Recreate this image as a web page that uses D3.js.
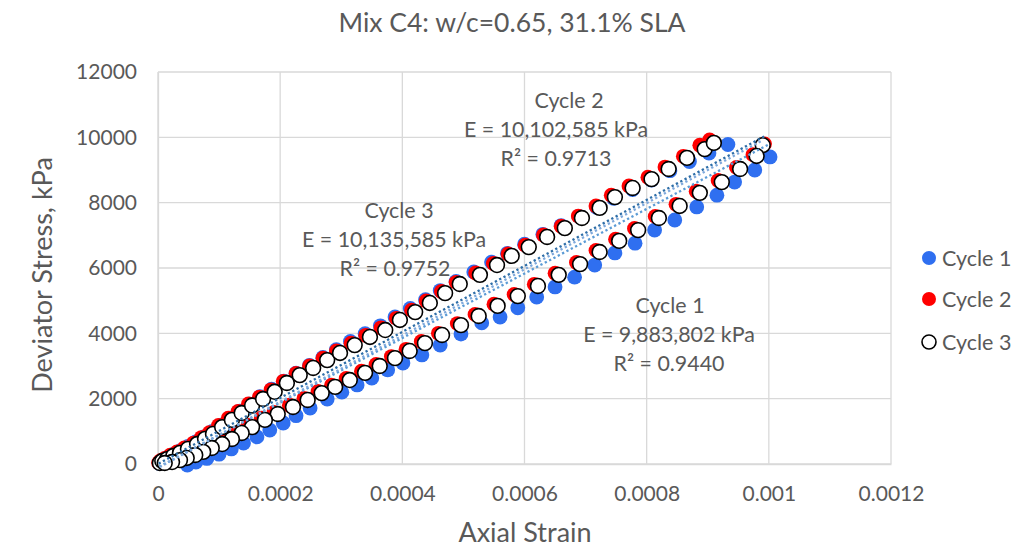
<!DOCTYPE html>
<html>
<head>
<meta charset="utf-8">
<script src="https://cdn.jsdelivr.net/npm/d3@7"></script>
<style>
  body { margin: 0; background: #fff; }
  svg { display: block; }
  text { font-family: Lato, "Open Sans", sans-serif; fill: #595959; }
</style>
</head>
<body>
<svg id="chart" width="1030" height="549"></svg>
<script>
// ---- data: [axial strain, deviator stress (kPa)] ----
const cycleNames = ["Cycle 1", "Cycle 2", "Cycle 3"];

const cycle1Loading = [
  [0.000002,20],[0.000008,110],[0.000016,200],[0.000026,300],[0.000037,410],[0.000049,540],
  [0.000062,680],[0.000075,830],[0.000089,1000],[0.000103,1190],[0.000118,1400],[0.000134,1620],
  [0.00015,1830],[0.000167,2060],[0.000186,2290],[0.000206,2540],[0.000226,2780],[0.000248,3020],
  [0.00027,3260],[0.000292,3500],[0.000315,3750],[0.000339,3990],[0.000364,4230],[0.000388,4500],
  [0.000413,4760],[0.000438,5030],[0.000462,5310],[0.000488,5590],[0.000517,5880],[0.000546,6180],
  [0.000572,6450],[0.0006,6730],[0.00063,7030],[0.00066,7300],[0.000689,7580],[0.000718,7860],
  [0.000746,8130],[0.000777,8400],[0.000808,8690],[0.000838,8980],[0.00087,9260],[0.000902,9520],
  [0.000933,9780]
];
const cycle1Unloading = [
  [0.001002,9400],[0.000977,9000],[0.000944,8630],[0.000915,8230],[0.000882,7870],[0.000846,7470],
  [0.000813,7160],[0.000781,6760],[0.000748,6460],[0.000715,6090],[0.000682,5720],[0.00065,5420],
  [0.00062,5110],[0.000589,4780],[0.00056,4500],[0.00053,4320],[0.000496,3980],[0.000462,3640],
  [0.000432,3340],[0.000401,3090],[0.000376,2880],[0.00035,2630],[0.000326,2420],[0.000301,2200],
  [0.000277,1990],[0.000249,1715],[0.000226,1480],[0.000205,1255],[0.000183,1040],[0.000162,830],
  [0.00014,640],[0.00012,460],[0.0001,300],[0.00008,170],[0.000062,60],[0.000048,-30]
];

const cycle2Loading = [
  [0.000001,40],[0.000004,100],[0.000011,170],[0.00002,270],[0.000031,370],[0.000043,490],
  [0.000058,640],[0.000071,810],[0.000084,960],[0.000099,1180],[0.000115,1400],[0.000131,1610],
  [0.000148,1840],[0.000166,2050],[0.000185,2270],[0.000205,2530],[0.000226,2770],[0.000248,3000],
  [0.00027,3240],[0.000292,3460],[0.000316,3700],[0.00034,3940],[0.000365,4170],[0.00039,4460],
  [0.000415,4710],[0.000439,4990],[0.000464,5280],[0.000488,5560],[0.00052,5850],[0.000549,6140],
  [0.000573,6430],[0.000601,6700],[0.000631,7010],[0.00066,7280],[0.000688,7590],[0.000717,7900],
  [0.000742,8230],[0.000771,8510],[0.000802,8780],[0.00083,9090],[0.00086,9420],[0.000887,9760],
  [0.000903,9920]
];
const cycle2Unloading = [
  [0.000993,9800],[0.000974,9470],[0.000947,9080],[0.000917,8680],[0.000881,8350],[0.000848,7950],
  [0.000814,7580],[0.00078,7210],[0.000749,6880],[0.000717,6540],[0.000685,6170],[0.00065,5840],
  [0.000616,5500],[0.000583,5190],[0.00055,4890],[0.000519,4580],[0.00049,4300],[0.000459,4000],
  [0.000431,3750],[0.000406,3510],[0.000382,3290],[0.000357,3050],[0.000333,2840],[0.000308,2620],
  [0.000284,2410],[0.000262,2220],[0.000239,2010],[0.000215,1800],[0.00019,1580],[0.000169,1400],
  [0.000148,1180],[0.000131,1000],[0.000115,810],[0.000099,660],[0.000082,540],[0.000068,420],
  [0.000055,320],[0.000041,230],[0.00003,160],[0.000017,100],[0.000005,70]
];

const cycle3Loading = [
  [0.000003,30],[0.000007,90],[0.000015,150],[0.000025,245],[0.000036,340],[0.000049,460],
  [0.000064,610],[0.000077,770],[0.00009,920],[0.000105,1130],[0.000121,1350],[0.000137,1560],
  [0.000154,1790],[0.000172,1990],[0.000191,2210],[0.000211,2480],[0.000232,2720],[0.000254,2940],
  [0.000277,3180],[0.000298,3400],[0.000322,3640],[0.000347,3890],[0.000372,4100],[0.000396,4410],
  [0.000421,4650],[0.000445,4930],[0.00047,5230],[0.000494,5510],[0.000527,5790],[0.000555,6090],
  [0.000579,6370],[0.000607,6640],[0.000637,6950],[0.000666,7220],[0.000694,7530],[0.000723,7840],
  [0.000748,8170],[0.000777,8450],[0.000808,8720],[0.000836,9030],[0.000866,9370],[0.000895,9640],
  [0.00091,9830]
];
const cycle3Unloading = [
  [0.00099,9760],[0.00098,9430],[0.000953,9030],[0.000923,8630],[0.000887,8300],[0.000854,7900],
  [0.00082,7530],[0.000786,7160],[0.000755,6830],[0.000723,6490],[0.000691,6120],[0.000656,5790],
  [0.000622,5450],[0.000589,5140],[0.000556,4840],[0.000525,4530],[0.000496,4250],[0.000465,3950],
  [0.000437,3700],[0.000412,3460],[0.000388,3240],[0.000363,3000],[0.000339,2790],[0.000314,2570],
  [0.00029,2360],[0.000268,2170],[0.000245,1960],[0.000221,1745],[0.000196,1530],[0.000175,1350],
  [0.000154,1130],[0.000137,950],[0.000121,765],[0.000105,610],[0.000088,490],[0.000074,370],
  [0.000061,275],[0.000047,185],[0.000036,120],[0.000023,60],[0.000011,30]
];

// fitted modulus (trendline slope) and coefficient of determination per cycle
const modulusValues = [9883802, 10102585, 10135585];
const rSquaredLabels = ["0.9440", "0.9713", "0.9752"];

const strainTicks = [0, 0.0002, 0.0004, 0.0006, 0.0008, 0.001, 0.0012];
const strainTickLabels = ["0", "0.0002", "0.0004", "0.0006", "0.0008", "0.001", "0.0012"];
const stressTicks = [0, 2000, 4000, 6000, 8000, 10000, 12000];

// ---- layout ----
const W = 1030, H = 549;
const margin = { left: 158, right: 139, top: 72, bottom: 85 };
const plotW = W - margin.left - margin.right;
const plotH = H - margin.top - margin.bottom;

const seriesStyle = [
  { fill: "#2f6ff0", stroke: "none", sw: 0 },
  { fill: "#ff0000", stroke: "none", sw: 0 },
  { fill: "#ffffff", stroke: "#000000", sw: 1.6 }
];
const trendColors = ["#5b9bd5", "#2e6ea8", "#7fa9dc"];

const series = [
  cycle1Loading.concat(cycle1Unloading),
  cycle2Loading.concat(cycle2Unloading),
  cycle3Loading.concat(cycle3Unloading)
];

const svg = d3.select("#chart");
const g = svg.append("g").attr("transform", `translate(${margin.left},${margin.top})`);

const x = d3.scaleLinear().domain([0, 0.0012]).range([0, plotW]);
const y = d3.scaleLinear().domain([0, 12000]).range([plotH, 0]);

// gridlines
g.append("g").selectAll("line.h").data(stressTicks).join("line")
  .attr("x1", 0).attr("x2", plotW)
  .attr("y1", d => y(d)).attr("y2", d => y(d))
  .attr("stroke", "#d9d9d9").attr("stroke-width", 1.3);
g.append("g").selectAll("line.v").data(strainTicks).join("line")
  .attr("y1", 0).attr("y2", plotH)
  .attr("x1", d => x(d)).attr("x2", d => x(d))
  .attr("stroke", "#d9d9d9").attr("stroke-width", 1.3);

// axes (labels only, lines handled by grid)
const xAxis = d3.axisBottom(x).tickValues(strainTicks)
  .tickFormat((d, i) => strainTickLabels[i]).tickSize(0).tickPadding(22);
const yAxis = d3.axisLeft(y).tickValues(stressTicks)
  .tickFormat(d3.format("d")).tickSize(0).tickPadding(21);

const gx = g.append("g").attr("transform", `translate(0,${plotH})`).call(xAxis);
const gy = g.append("g").call(yAxis);
[gx, gy].forEach(a => {
  a.select(".domain").attr("stroke", "#d9d9d9").attr("stroke-width", 1.3);
  a.selectAll("text").style("font-size", "21px").style("font-family", "Lato, sans-serif").attr("fill", "#595959");
});

// markers
series.forEach((pts, i) => {
  const st = seriesStyle[i];
  g.append("g").selectAll("circle").data(pts).join("circle")
    .attr("cx", d => x(d[0])).attr("cy", d => y(d[1]))
    .attr("r", 7.4)
    .attr("fill", st.fill)
    .attr("stroke", st.stroke)
    .attr("stroke-width", st.sw);
});

// linear trendlines with slope = stated modulus, intercept by least squares
series.forEach((pts, i) => {
  const E = modulusValues[i];
  const mx = d3.mean(pts, d => d[0]);
  const my = d3.mean(pts, d => d[1]);
  const b = my - E * mx;
  const [x0, x1] = d3.extent(pts, d => d[0]);
  g.append("line")
    .attr("x1", x(x0)).attr("y1", y(E * x0 + b))
    .attr("x2", x(x1)).attr("y2", y(E * x1 + b))
    .attr("stroke", trendColors[i])
    .attr("stroke-width", 2.3)
    .attr("stroke-dasharray", "2.3 2.6");
});

// trendline labels
const fmtE = d3.format(",d");
const labelPos = [
  { cx: [670, 669, 669], cy: 305 },
  { cx: [569, 556, 556], cy: 100 },
  { cx: [399, 394, 395], cy: 210 }
];
labelPos.forEach((p, i) => {
  const lines = [cycleNames[i], `E = ${fmtE(modulusValues[i])} kPa`, `R² = ${rSquaredLabels[i]}`];
  lines.forEach((t, k) => {
    svg.append("text")
      .attr("x", p.cx[k]).attr("y", p.cy + k * 29)
      .attr("text-anchor", "middle").attr("dominant-baseline", "central")
      .style("font-size", "21.4px")
      .text(t);
  });
});

// title
svg.append("text").attr("x", 512).attr("y", 22)
  .attr("text-anchor", "middle").attr("dominant-baseline", "central")
  .style("font-size", "26.5px")
  .text("Mix C4: w/c=0.65, 31.1% SLA");

// axis titles
svg.append("text").attr("x", 525).attr("y", 542)
  .attr("text-anchor", "middle")
  .style("font-size", "27px")
  .text("Axial Strain");
svg.append("text")
  .attr("transform", "translate(41,275) rotate(-90)")
  .attr("text-anchor", "middle").attr("dominant-baseline", "central")
  .style("font-size", "27px")
  .text("Deviator Stress, kPa");

// legend
const legend = svg.append("g").attr("transform", "translate(929,258)");
cycleNames.forEach((name, i) => {
  const row = legend.append("g").attr("transform", `translate(0,${[0, 41, 84][i]})`);
  row.append("circle").attr("r", 7)
    .attr("fill", seriesStyle[i].fill)
    .attr("stroke", seriesStyle[i].stroke)
    .attr("stroke-width", seriesStyle[i].sw);
  row.append("text").attr("x", 13).attr("dominant-baseline", "central")
    .style("font-size", "21.5px").text(name);
});
</script>
</body>
</html>
